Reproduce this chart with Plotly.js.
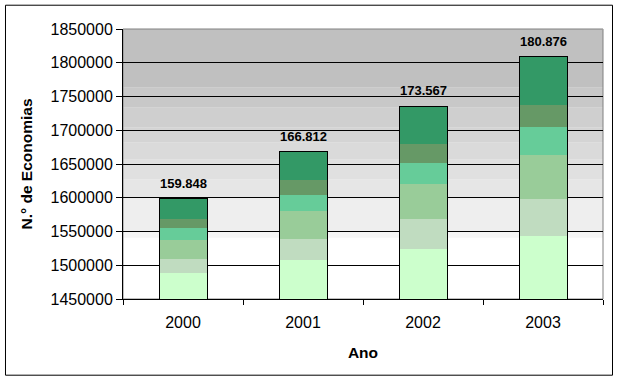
<!DOCTYPE html>
<html>
<head>
<meta charset="utf-8">
<script src="https://cdn.plot.ly/plotly-3.0.1.min.js"></script>
<style>
  html, body { margin: 0; padding: 0; background: #ffffff; }
  #chart { width: 619px; height: 381px; }
</style>
</head>
<body>
<div id="chart"></div>
<script>
// ---- data ----
const years = ['2000', '2001', '2002', '2003'];
const seg1 = [1488500, 1507400, 1524700, 1544000];
const seg2 = [21500, 32200, 43100, 53500];
const seg3 = [27500, 40100, 52000, 65300];
const seg4 = [18000, 24700, 32200, 41600];
const seg5 = [13500, 21800, 27200, 32700];
const seg6 = [29480, 41920, 56470, 71660];
const totalLabels = ['159.848', '166.812', '173.567', '180.876'];
const yTitle = 'N.° de Economias';
const xTitle = 'Ano';

const series = [seg1, seg2, seg3, seg4, seg5, seg6];
const colors = ['#CCFFCC', '#C0DCC0', '#99CC99', '#66CC99', '#669966', '#339966'];

const traces = series.map((s, i) => ({
  type: 'bar',
  x: years,
  y: s,
  marker: { color: colors[i], line: { width: 0 } },
  hoverinfo: 'skip',
  showlegend: false
}));

const totals = years.map((_, j) => series.reduce((a, s) => a + s[j], 0));
traces.push({
  type: 'bar',
  x: years,
  y: totals,
  base: years.map(() => 0),
  marker: { color: 'rgba(0,0,0,0)', line: { color: '#000000', width: 1 } },
  hoverinfo: 'skip',
  showlegend: false
});

const font = 'Arial, "Liberation Sans", sans-serif';

const annotations = years.map((yr, j) => ({
  x: j, y: totals[j], xref: 'x', yref: 'y',
  text: '<b>' + totalLabels[j] + '</b>',
  showarrow: false, yanchor: 'bottom', yshift: 6,
  font: { family: font, size: 13, color: '#000000' }
}));

// background bands (paper fractions, top to bottom)
const bandEdges = [1.0, 0.7826, 0.7085, 0.634, 0.579, 0.516, 0.442, 0.375, 0.249, 0.227];
const bandColors = ['#C0C0C0', '#C8C8C8', '#CFCFCF', '#D4D4D4', '#DADADA', '#E0E0E0', '#E6E6E6', '#EEEEEE', '#F6F6F6'];
const shapes = bandColors.map((c, i) => ({
  type: 'rect', xref: 'paper', yref: 'paper', layer: 'below',
  x0: 0, x1: 1, y0: bandEdges[i + 1], y1: bandEdges[i],
  fillcolor: c, line: { width: 0 }
}));
shapes.push({
  type: 'rect', xref: 'paper', yref: 'paper', layer: 'above',
  x0: 0, x1: 1, y0: 0.997, y1: 1,
  fillcolor: '#A0A0A0', line: { width: 0 }
});
shapes.push({
  type: 'rect', xref: 'paper', yref: 'paper', layer: 'below',
  x0: 0, x1: 1, y0: 0, y1: 1,
  fillcolor: 'rgba(0,0,0,0)', line: { color: '#808080', width: 1 }
});
// outer chart border
shapes.push({
  type: 'rect', xref: 'paper', yref: 'paper', layer: 'above',
  x0: -0.2448, x1: 1.0198, y0: -0.2822, y1: 1.0881,
  fillcolor: 'rgba(0,0,0,0)', line: { color: '#000000', width: 1 }
});

const layout = {
  width: 619,
  height: 381,
  margin: { l: 123, r: 16, t: 29, b: 82, pad: 0 },
  paper_bgcolor: '#ffffff',
  plot_bgcolor: '#ffffff',
  barmode: 'stack',
  bargap: 0.6,
  font: { family: font, size: 16, color: '#000000' },
  xaxis: {
    type: 'category',
    categoryorder: 'array',
    categoryarray: years,
    tickson: 'boundaries',
    ticks: 'outside',
    ticklen: 5,
    tickcolor: '#000000',
    showline: true,
    linecolor: '#000000',
    linewidth: 1,
    showgrid: false,
    tickangle: 0,
    ticklabelstandoff: 9,
    tickfont: { family: font, size: 16, color: '#000000' },
    title: { text: xTitle, font: { family: font, size: 15.5, color: '#000000', weight: 'bold' }, standoff: 16 }
  },
  yaxis: {
    range: [1450000, 1850000],
    dtick: 50000,
    tick0: 1450000,
    tickformat: 'd',
    ticks: 'outside',
    ticklen: 6,
    tickcolor: '#000000',
    showline: true,
    linecolor: '#000000',
    linewidth: 1,
    showgrid: true,
    gridcolor: '#000000',
    gridwidth: 1,
    zeroline: false,
    tickfont: { family: font, size: 16, color: '#000000' },
    title: { text: yTitle, font: { family: font, size: 15.5, color: '#000000', weight: 'bold' }, standoff: 14 }
  },
  annotations: annotations,
  shapes: shapes
};

Plotly.newPlot('chart', traces, layout, { displayModeBar: false, staticPlot: true });
</script>
</body>
</html>
